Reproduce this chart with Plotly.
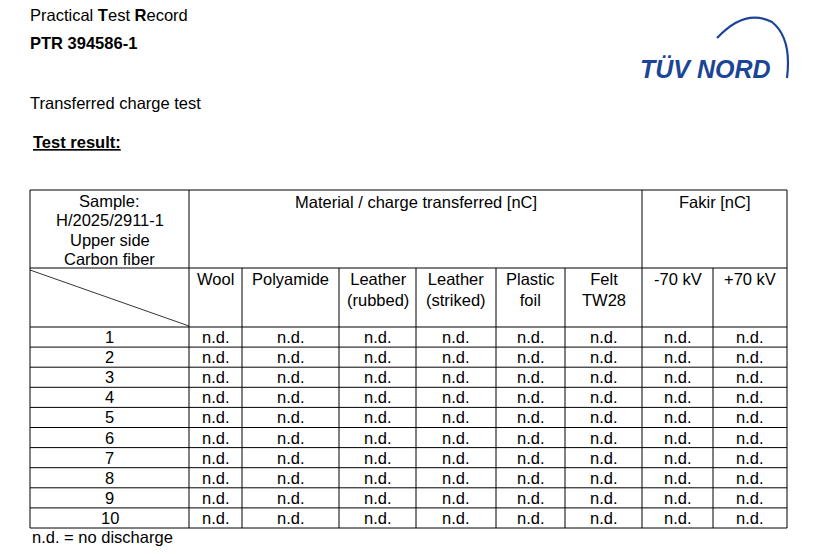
import plotly.graph_objects as go

materials = ["Wool", "Polyamide", "Leather<br>(rubbed)", "Leather<br>(striked)", "Plastic<br>foil", "Felt<br>TW28"]
fakir = ["-70 kV", "+70 kV"]
samples = [str(i) for i in range(1, 11)]
values = [["n.d."] * 8 for _ in samples]
sample_head = ["Sample:", "H/2025/2911-1", "Upper side", "Carbon fiber"]

colx = [30, 189, 242, 339, 416, 496, 565, 642, 713, 787]
ytop, ysplit, yhead = 190, 268, 327
rowh = 20.1

F = "Liberation Sans, Arial, sans-serif"
FS = 16.5
fig = go.Figure()
shapes, ann = [], []
def line(x0, y0, x1, y1, w=1):
    shapes.append(dict(type="line", x0=x0, y0=y0, x1=x1, y1=y1, line=dict(color="black", width=w)))
def text(x, y, t, size=FS, xa="center", ya="middle", color="black"):
    ann.append(dict(x=x, y=y, text=t, showarrow=False, xanchor=xa, yanchor=ya,
                    font=dict(family=F, size=size, color=color)))

ybot = yhead + rowh * len(samples)
line(colx[0], ytop, colx[-1], ytop)
line(colx[0], ybot, colx[-1], ybot)
line(colx[0], ytop, colx[0], ybot)
line(colx[-1], ytop, colx[-1], ybot)
for x in [colx[1], colx[7]]:
    line(x, ytop, x, ybot)
for x in colx[2:7] + [colx[8]]:
    line(x, ysplit, x, ybot)
line(colx[0], ysplit, colx[-1], ysplit)
line(colx[0], yhead, colx[-1], yhead)
for i in range(1, len(samples)):
    line(colx[0], yhead + rowh * i, colx[-1], yhead + rowh * i)
line(colx[0], ysplit + 2, colx[1], yhead - 1, 0.8)

for k, t in enumerate(sample_head):
    text((colx[0] + colx[1]) / 2, 201 + 19.3 * k, t)
text((colx[1] + colx[7]) / 2, ytop + 1, "Material / charge transferred [nC]", ya="top")
text((colx[7] + colx[9]) / 2, ytop + 1, "Fakir [nC]", ya="top")
heads = materials + fakir
for j, h in enumerate(heads):
    text((colx[j + 1] + colx[j + 2]) / 2, ysplit, h, ya="top")
for i, s in enumerate(samples):
    yc = yhead + rowh * (i + 0.5)
    text((colx[0] + colx[1]) / 2, yc, s)
    for j, v in enumerate(values[i]):
        text((colx[j + 1] + colx[j + 2]) / 2, yc, v)

text(28, 15, "Practical <b>T</b>est <b>R</b>ecord", xa="left")
text(28, 43, "<b>PTR 394586-1</b>", xa="left")
text(28, 103, "Transferred charge test", xa="left")
text(31, 142, "<b><u>Test result:</u></b>", xa="left")
text(30, 537, "n.d. = no discharge", xa="left")

ann.append(dict(x=705, y=69, text="<b><i>TÜV NORD</i></b>", showarrow=False, xanchor="center", yanchor="middle",
                font=dict(family="Liberation Sans, Arial", size=25, color="#1b4596")))
shapes.append(dict(type="path", path="M 717,38 Q 745,8 772,22 Q 792,38 787,78",
                   line=dict(color="#1b4596", width=2.2)))

fig.update_layout(width=825, height=554, margin=dict(l=0, r=0, t=0, b=0),
                  paper_bgcolor="white", plot_bgcolor="white",
                  xaxis=dict(range=[8, 833], visible=False, fixedrange=True),
                  yaxis=dict(range=[562, 8], visible=False, fixedrange=True),
                  shapes=shapes, annotations=ann, showlegend=False)
fig.write_html("out.html")
